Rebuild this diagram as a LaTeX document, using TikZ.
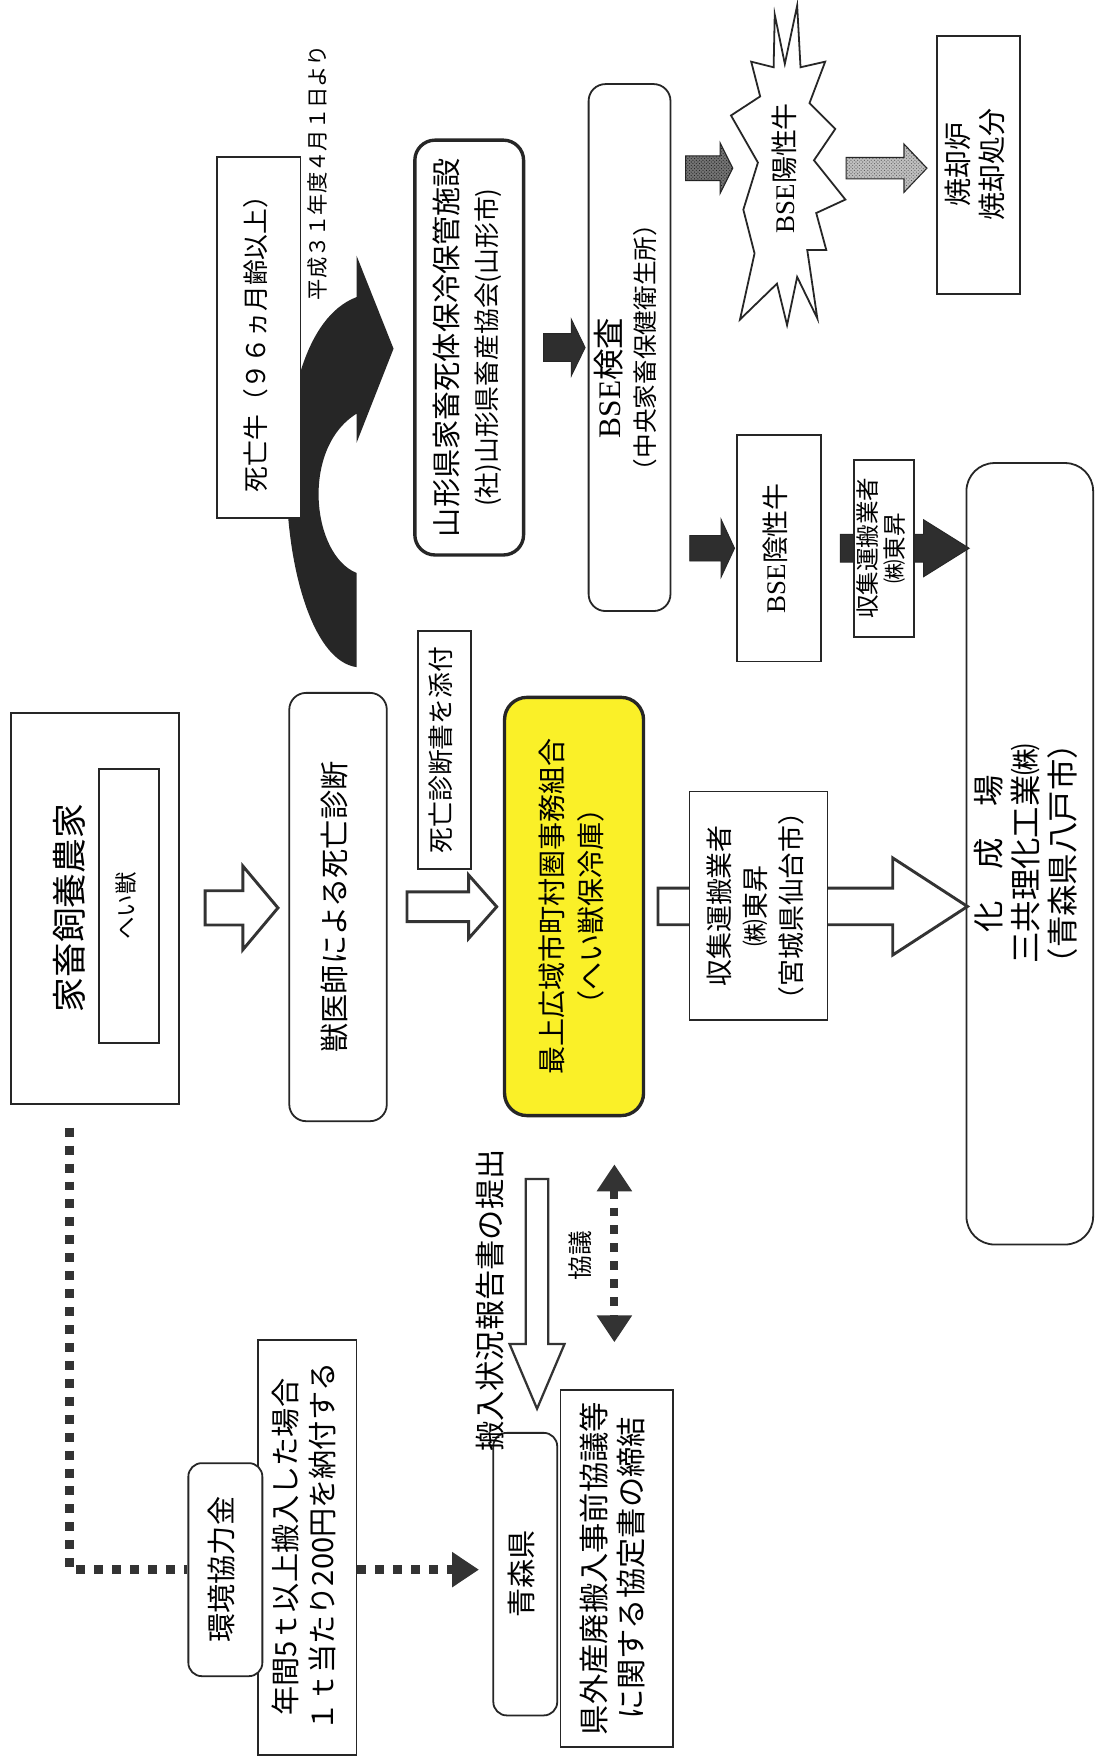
\documentclass[tikz,border=0pt]{standalone}
\usepackage{fontspec}
\setmainfont{Noto Sans CJK JP}
\newfontfamily\bsefont{Liberation Serif}
\usepackage{graphicx}
\usetikzlibrary{arrows.meta,shapes.arrows,calc,patterns}

\definecolor{yellowbox}{RGB}{250,240,40}
\newcommand{\rottext}[1]{\rotatebox{90}{\begin{tabular}{@{}c@{}}#1\end{tabular}}}
\newcommand{\sz}[2]{\fontsize{#1}{#2}\selectfont}

\begin{document}
\begin{tikzpicture}
[x=1pt,y=-1pt,
plainbox/.style={draw=black!85, line width=1.6pt, fill=white, inner sep=0pt, align=center},
rbox/.style={plainbox, rounded corners=15pt},
thickbox/.style={rbox, line width=3pt},
openarrow/.style={single arrow, draw=black!80, line width=2.6pt, fill=white, inner sep=0pt, single arrow head indent=0pt},
blackarrow/.style={single arrow, draw=black!85, line width=0.8pt, fill=black!82, inner sep=0pt, single arrow head indent=0pt},
hatcharrow/.style={single arrow, draw=black!85, line width=1pt, inner sep=0pt, single arrow head indent=0pt},
dotline/.style={draw=black!80, line width=8pt, dash pattern=on 8pt off 8pt},
dottip/.tip={Triangle[length=24pt,width=30pt]}]
  \useasboundingbox (0,0) rectangle (981,1568);
  \fill[white] (0,0) rectangle (981,1568);

  \fill[black!85] (318,595) .. controls (245,585) and (225,300) .. (318,265) -- (318,228) -- (351,311) -- (318,395)
    -- (318,369) .. controls (268,400) and (278,495) .. (318,511) -- cycle;

  \node[plainbox, minimum width=150pt, minimum height=349pt] (farm) at (85,810.5) {};
  \node[font=\sz{31}{36}] (farmtxt) at (66,810) {\rottext{家畜飼養農家}};
  \node[plainbox, minimum width=54pt, minimum height=244pt, font=\sz{20}{24}] (heijuu) at (115,808) {\rottext{へい獣}};
  \node[rbox, minimum width=87pt, minimum height=382pt, font=\sz{26}{30}] (vet) at (301.5,809) {\rottext{獣医師による死亡診断}};
  \node[plainbox, minimum width=47pt, minimum height=212pt, font=\sz{23}{28}] (attach) at (396.5,669) {\rottext{死亡診断書を添付}};
  \node[thickbox, fill=yellowbox, rounded corners=20pt, minimum width=124pt, minimum height=373pt, font=\sz{25}{35}] (union) at (512,808.5)
    {\rottext{最上広域市町村圏事務組合\\（へい獣保冷庫）}};
  \node[rbox, rounded corners=25pt, minimum width=113pt, minimum height=697pt, font=\sz{28}{31}] (rendering) at (918.5,761.5)
    {\rottext{化　成　場\\三共理化工業㈱\\（青森県八戸市）}};

  \node[openarrow, minimum height=65pt, inner ysep=14pt, single arrow head extend=22pt, single arrow tip angle=100] (a1) at ($(farm.east)!.5!(vet.west)$) {};
  \node[openarrow, minimum height=80pt, inner ysep=12pt, single arrow head extend=15pt, single arrow tip angle=97] (a2) at ($(vet.east)!.5!(union.west)$) {};
  \node[openarrow, minimum height=276pt, inner ysep=15pt, single arrow head extend=27pt, single arrow tip angle=66] (a3) at ($(union.east)!.5!(union.east -| rendering.west)+(-6,0)$) {};
  \node[plainbox, minimum width=123pt, minimum height=204pt, font=\sz{24}{32}] (carrier) at (676.5,808)
    {\rottext{収集運搬業者\\㈱東昇\\（宮城県仙台市）}};

  \node[plainbox, minimum width=74.5pt, minimum height=322pt, font=\sz{23}{28}] (dead) at (230.75,301) {\rottext{死亡牛（９６ヵ月齢以上）}};
  \node[font=\sz{19}{22}] (since) at (286,154) {\rottext{平成３１年度４月１日より}};
  \node[thickbox, rounded corners=18pt, minimum width=97pt, minimum height=370pt, font=\sz{23}{35}] (storage) at (418.5,310)
    {\rottext{\sz{26}{35}山形県家畜死体保冷保管施設\\(社)山形県畜産協会(山形市)}};
  \node[rbox, minimum width=73pt, minimum height=470pt, font=\sz{22}{30}] (bse) at (561.5,310)
    {\rottext{\sz{28}{30}{\bsefont BSE}検査\hspace*{54pt}\\（中央家畜保健衛生所）}};
  \node[plainbox, minimum width=75pt, minimum height=202pt, font=\sz{24}{28}] (negative) at (694.5,489) {\rottext{{\bsefont BSE}陰性牛}};
  \node[plainbox, minimum width=74pt, minimum height=230pt, font=\sz{25}{30}] (incin) at (873,147) {\rottext{焼却炉\\焼却処分}};

  \node[blackarrow, minimum height=37pt, inner ysep=12pt, single arrow head extend=13pt, single arrow tip angle=128] (a4) at ($(storage.east)!.5!(bse.west)+(4,0)$) {};
  \node[blackarrow, minimum height=40pt, inner ysep=11pt, single arrow head extend=14.5pt, single arrow tip angle=130] (a5) at ($(bse.east |- negative.west)!.5!(negative.west)+(5,0)$) {};
  \node[blackarrow, minimum height=115pt, inner ysep=12pt, single arrow head extend=13pt, single arrow tip angle=64] (a6) at ($(negative.east)!.5!(negative.east -| rendering.west)$) {};
  \node[plainbox, minimum width=53pt, minimum height=158pt, font=\sz{21}{23}] (carrier2) at (788.5,489) {\rottext{収集運搬業者\\㈱東昇}};

  \coordinate (starc) at (703,150);
  \draw[line width=1.6pt, draw=black!85, fill=white, shift={(starc)}]
    (-12,-137) -- (-3,-93) -- (8,-145) -- (11,-90) -- (33,-95) -- (19,-58) -- (42,-35) -- (23,-7)
    -- (51,28) -- (25,40) -- (34,73) -- (17,73) -- (26,134) -- (8,97) -- (-1,140) -- (-10,103)
    -- (-43,135) -- (-30,76) -- (-40,37) -- (-27,-5) -- (-51,-47) -- (-25,-64) -- (-33,-95) -- (-13,-90) -- cycle;
  \node[font=\sz{24}{28}] (positive) at (starc) {\rottext{{\bsefont BSE}陽性牛}};
  \node[hatcharrow, fill=black!55, postaction={pattern=crosshatch dots, pattern color=black!90}, minimum height=42pt, inner ysep=10.5pt,
    single arrow head extend=11.5pt, single arrow tip angle=127] (a7) at ($(bse.east |- starc)+(31,0)$) {};
  \node[hatcharrow, fill=black!25, postaction={pattern=crosshatch dots, pattern color=black!65}, minimum height=72pt, inner ysep=9pt,
    single arrow head extend=12pt, single arrow tip angle=93] (a8) at ($(incin.west |- starc)+(-49,0)$) {};

  \node[plainbox, minimum width=88pt, minimum height=370pt, font=\sz{26}{33}] (nenkan) at (274,1380)
    {\rottext{年間5ｔ以上搬入した場合\\１ｔ当たり200円を納付する}};
  \node[rbox, rounded corners=12pt, minimum width=66pt, minimum height=190pt, font=\sz{26}{30}] (kankyo) at (201,1400) {\rottext{環境協力金}};
  \node[plainbox, minimum width=100pt, minimum height=318pt, font=\sz{27}{33}] (agree) at (550,1399)
    {\rottext{県外産廃搬入事前協議等\\に関する協定書の締結}};
  \node[rbox, rounded corners=12pt, minimum width=57pt, minimum height=252pt, font=\sz{26}{30}] (aomori) at (468.5,1404) {\rottext{青森県}};

  \node[openarrow, line width=2pt, rotate=-90, minimum height=205pt, inner ysep=9pt, single arrow head extend=14.5pt, single arrow tip angle=46] (a9)
    at ($(aomori.north)+(10.5,-135)$) {};
  \node[font=\sz{27}{30}] (reportlbl) at (440,1160) {\rottext{搬入状況報告書の提出}};
  \node[font=\sz{22}{24}] (kyogi) at (520,1120) {\rottext{協議}};

  \coordinate (d1) at ($(farm.south west)!.35!(farm.south east)+(0,20)$);
  \draw[dotline] (d1) |- (kankyo.west);
  \draw[dotline, -{dottip}] (nenkan.east |- kankyo.east) -- ($(aomori.west |- kankyo.east)+(-12,0)$);
  \draw[dotline, line width=7pt, {dottip}-{dottip}] ($(union.south -| agree.north)+(-2,42)$) -- ($(agree.north)+(-2,-42)$);
\end{tikzpicture}
\end{document}
